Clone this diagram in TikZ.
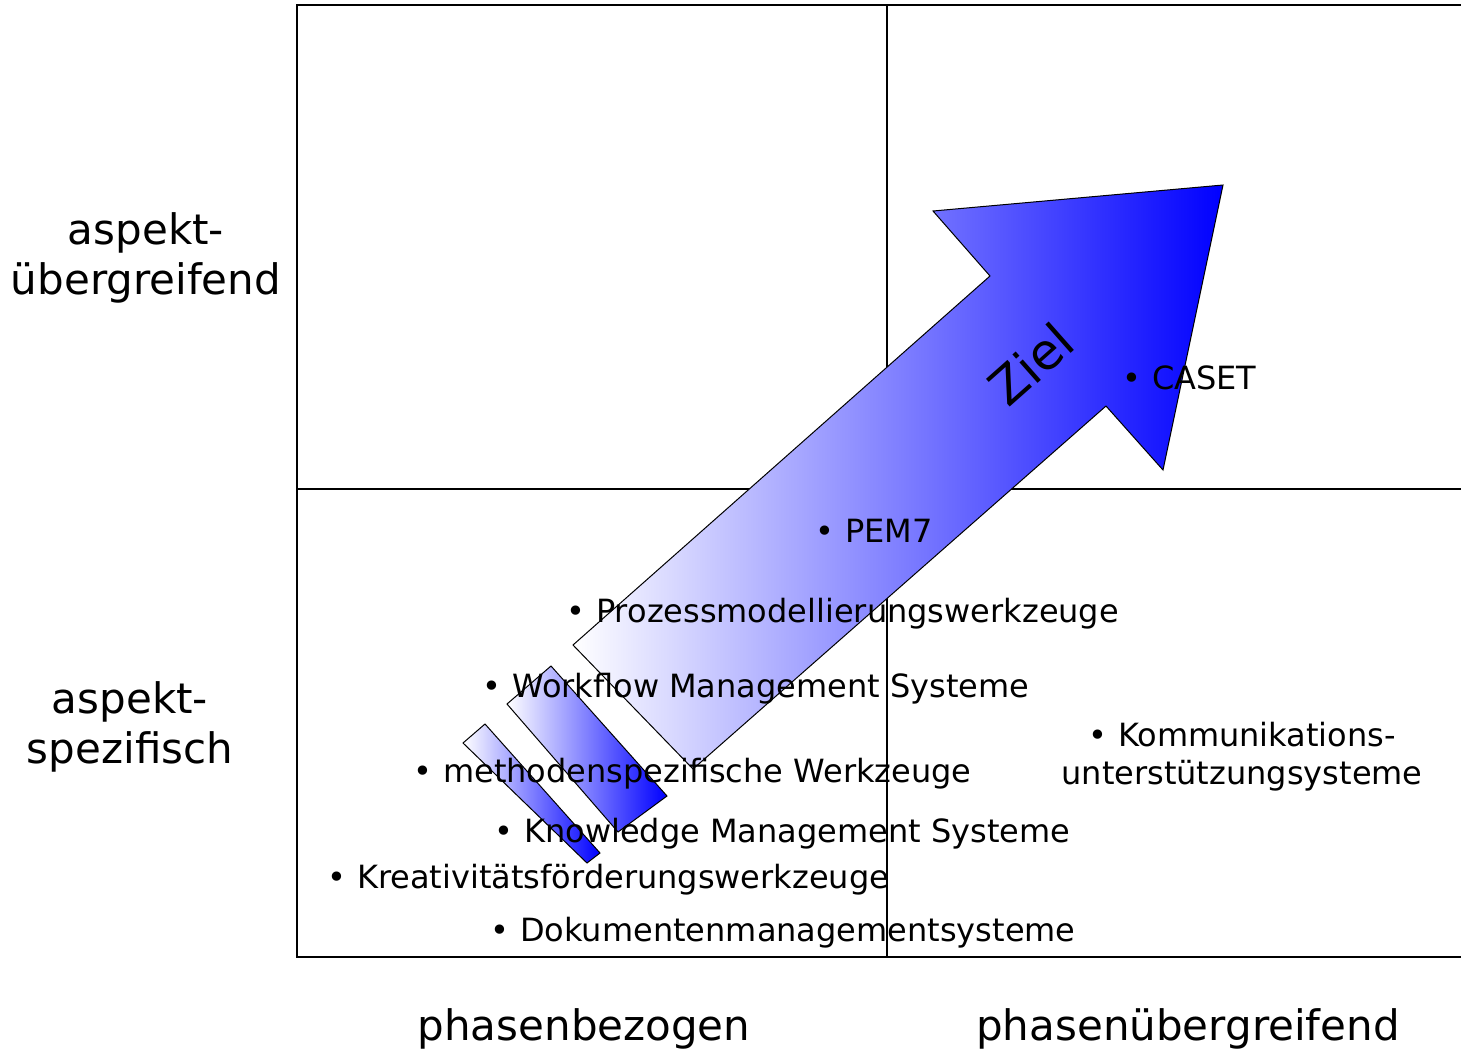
\documentclass[tikz,border=0pt]{standalone}
\usepackage{fontspec}
\setmainfont{DejaVu Sans}
\begin{document}
\begin{tikzpicture}[x=1pt,y=-1pt,
  gridline/.style={line width=1.5pt},
  bluebar/.style={draw=black,line width=1pt,left color=white,right color=blue},
  item/.style={inner sep=0pt,anchor=base west,font=\fontsize{32}{38}\selectfont},
  axis/.style={inner sep=0pt,font=\fontsize{42}{50}\selectfont,align=center}]
\useasboundingbox (0,0) rectangle (1461,1050);
% grid
\draw[gridline] (1461,5) -- (297,5) -- (297,957) -- (1461,957);
\draw[gridline] (887,5) -- (887,957);
\draw[gridline] (297,489) -- (1461,489);
% bars and arrow
\draw[bluebar] (485,724) -- (600,853) -- (587,863) -- (463,743) -- cycle;
\draw[bluebar] (551,666) -- (667,796) -- (618,832) -- (507,704) -- cycle;
\draw[bluebar] (573,645) -- (990,276) -- (933,211) -- (1223,185) -- (1163,470) -- (1106,406) -- (693,769) -- cycle;
\node[inner sep=0pt,rotate=41.5,font=\fontsize{50}{56}\selectfont] (ziel) at (1031,364) {Ziel};
% items
\node[item] (caset) at (1152,389) {\llap{•\hspace{11pt}}CASET};
\node[item] (pem) at (845,542) {\llap{•\hspace{11pt}}PEM7};
\node[item] (prozess) at (596,622) {\llap{•\hspace{11pt}}Prozessmodellierungswerkzeuge};
\node[item] (workflow) at (512,697) {\llap{•\hspace{11pt}}Workflow Management Systeme};
\node[item] (methoden) at (443,782) {\llap{•\hspace{11pt}}methodenspezifische Werkzeuge};
\node[item] (knowledge) at (524,842) {\llap{•\hspace{11pt}}Knowledge Management Systeme};
\node[item] (kreativ) at (357,888) {\llap{•\hspace{11pt}}Kreativitätsförderungswerkzeuge};
\node[item] (dokumente) at (520,941) {\llap{•\hspace{11pt}}Dokumentenmanagementsysteme};
\node[inner sep=0pt,align=center,font=\fontsize{32}{38}\selectfont] (komm) at (1242,757) {•\hspace{11pt}Kommunikations-\\unterstützungsysteme};
% axis labels
\node[axis] (ueber) at (146,258) {aspekt-\\übergreifend};
\node[axis] (spez) at (130,727) {aspekt-\\spezifisch};
\node[axis,anchor=base] (phb) at (584,1040) {phasenbezogen};
\node[axis,anchor=base] (phu) at (1188,1040) {phasenübergreifend};
\end{tikzpicture}
\end{document}
